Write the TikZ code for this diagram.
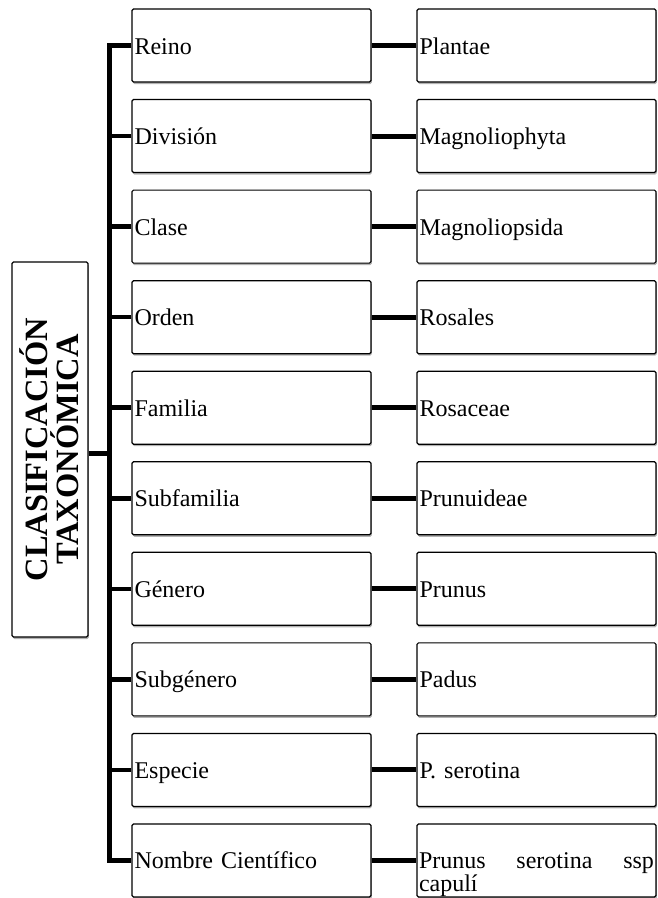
\documentclass[tikz,border=0pt]{standalone}
\usepackage{fontspec}
\setmainfont{Liberation Serif}
\usetikzlibrary{shadows}
\begin{document}
\begin{tikzpicture}[x=1pt,y=-1pt,
  frame/.style={draw=black, line width=1.2pt, rounded corners=1.5pt, fill=white,
    drop shadow={shadow xshift=0.8pt, shadow yshift=-2pt, opacity=0.3, fill=black}},
  cell/.style={frame, minimum height=73pt, inner xsep=2.5pt, inner ysep=0pt,
    text width=234pt, align=left, font=\fontsize{24}{24}\selectfont,
    text height=18pt, text depth=1pt},
  lastcell/.style={frame, minimum height=73pt, inner xsep=2pt, inner ysep=0pt,
    text width=235pt, align=justify, font=\fontsize{24}{23.5}\selectfont,
    text depth=0pt},
  bus/.style={line width=4.5pt},
  link/.style={line width=5pt}]
\useasboundingbox (0,0) rectangle (657,898);
% title box
\node[frame, minimum width=76pt, minimum height=375pt, inner sep=0pt] (title) at (50,449.5) {};
\node[rotate=90, align=center, inner sep=0pt,
  font=\bfseries\fontsize{32.5}{31}\selectfont] (ttext) at ([xshift=-1pt]title.center) {CLASIFICACIÓN\\TAXONÓMICA};
% rows
\foreach \i/\a/\b in {1/Reino/Plantae, 2/División/Magnoliophyta, 3/Clase/Magnoliopsida,
  4/Orden/Rosales, 5/Familia/Rosaceae, 6/Subfamilia/Prunuideae, 7/Género/Prunus,
  8/Subgénero/Padus, 9/Especie/P. serotina}{
  \node[cell] (m\i) at (251.5,{45.5+90.55*(\i-1)}) {\a};
  \node[cell] (r\i) at (536.5,{45.5+90.55*(\i-1)}) {\b};
}
\node[cell] (m10) at (251.5,{45.5+90.55*9}) {Nombre Científico};
\node[lastcell] (r10) at (536.5,{45.5+90.55*9}) {Prunus serotina ssp\linebreak capulí};
% connectors middle -> right
\foreach \i in {1,...,10}{
  \draw[link] (m\i.east) -- (r\i.west);
}
% bus
\draw[bus] (m1.west) -- ++(-22,0) |- (m10.west);
\foreach \i in {2,...,9}{
  \draw[bus] (m\i.west) -- ++(-22,0);
}
\coordinate (tj) at (110,453);
\draw[link] (title.east |- tj) -- (tj);
\end{tikzpicture}
\end{document}
